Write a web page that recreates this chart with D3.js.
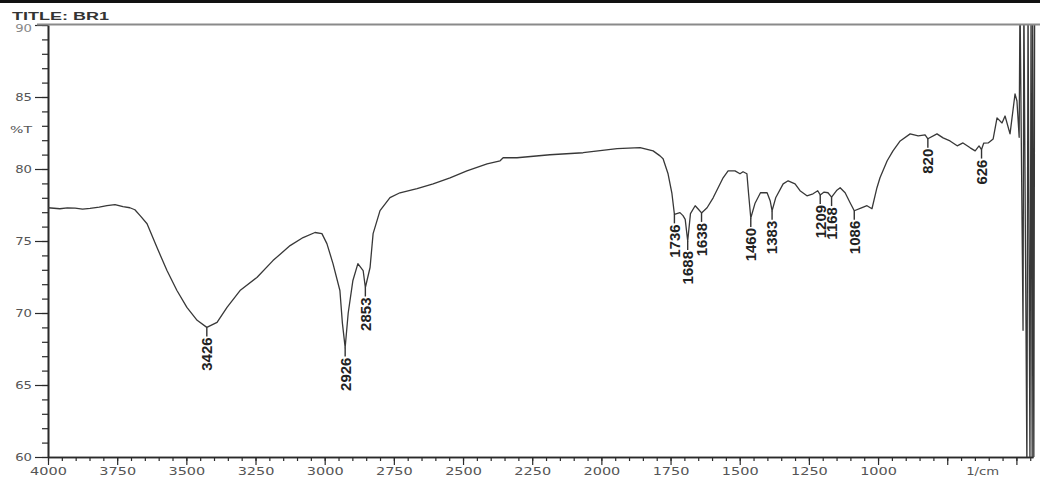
<!DOCTYPE html>
<html>
<head>
<meta charset="utf-8">
<script src="https://cdn.jsdelivr.net/npm/d3@7"></script>
<style>
  html, body { margin: 0; padding: 0; background: #fff; }
  svg { display: block; }
</style>
</head>
<body>
<svg id="chart" width="1040" height="481"></svg>
<script>
// IR spectrum of sample BR1: wavenumber (1/cm) against transmittance (%T)
const wavenumbers = [
  4000, 3957, 3930, 3902, 3875, 3848, 3815, 3787, 3758, 3729, 3704, 3686, 3667, 3642,
  3606, 3570, 3534, 3498, 3461, 3426, 3389, 3353, 3306, 3245, 3187, 3125, 3078, 3035,
  3010, 2992, 2970, 2945, 2936, 2926, 2915, 2898, 2880, 2861, 2853, 2836, 2825, 2800,
  2764, 2728, 2666, 2608, 2547, 2486, 2413, 2366, 2355, 2305, 2186, 2066, 1943, 1860,
  1813, 1788, 1777, 1759, 1745, 1736, 1716, 1705, 1697, 1688, 1678, 1661, 1651, 1638,
  1618, 1596, 1560, 1542, 1517, 1499, 1488, 1474, 1468, 1460, 1445, 1425, 1401, 1390,
  1383, 1370, 1343, 1325, 1300, 1282, 1257, 1235, 1218, 1209, 1195, 1181, 1168, 1150,
  1137, 1119, 1101, 1086, 1060, 1040, 1022, 1004, 993, 967, 946, 920, 884, 855, 830,
  820, 787, 765, 740, 714, 693, 667, 649, 635, 626, 618, 602, 584, 570, 552, 541, 523,
  505, 498, 490, 487, 476, 473, 462, 458, 451, 447, 443, 441, 437, 434
];
const transmittance = [
  77.31, 77.24, 77.30, 77.28, 77.22, 77.26, 77.35, 77.45, 77.52, 77.38, 77.31, 77.17, 76.76, 76.20,
  74.54, 72.95, 71.56, 70.39, 69.49, 69.00, 69.35, 70.39, 71.56, 72.47, 73.64, 74.68, 75.24, 75.59,
  75.51, 74.82, 73.43, 71.56, 69.30, 67.60, 70.00, 72.26, 73.43, 72.95, 71.77, 73.16, 75.51, 77.11,
  78.01, 78.35, 78.63, 78.97, 79.39, 79.87, 80.36, 80.57, 80.78, 80.78, 80.99, 81.13, 81.41, 81.48,
  81.26, 80.91, 80.71, 79.67, 78.30, 76.85, 76.97, 76.76, 76.50, 75.00, 76.90, 77.45, 77.24, 76.95,
  77.31, 78.00, 79.39, 79.87, 79.87, 79.67, 79.81, 79.67, 78.30, 76.60, 77.60, 78.35, 78.35, 77.80,
  77.10, 78.00, 78.97, 79.18, 78.97, 78.49, 78.14, 78.28, 78.49, 78.20, 78.40, 78.35, 78.05, 78.50,
  78.70, 78.35, 77.66, 77.10, 77.30, 77.45, 77.24, 78.70, 79.39, 80.57, 81.26, 81.95, 82.44, 82.30, 82.37,
  82.10, 82.44, 82.16, 81.95, 81.61, 81.81, 81.47, 81.26, 81.60, 81.35, 81.80, 81.81, 82.09, 83.55, 83.20, 83.68, 82.44,
  85.21, 84.72, 82.20, 92.00, 68.80, 92.00, 59.00, 92.00, 59.00, 92.00, 59.00, 92.00, 59.00, 92.00
];

// Annotated band positions
const peakLabels = [3426, 2926, 2853, 1736, 1688, 1638, 1460, 1383, 1209, 1168, 1086, 820, 626];

// Axis ticks
const yMajorTicks = [60, 65, 70, 75, 80, 85];
const yTopTick = 90;
const yMinorTicks = d3.range(60, 91, 1);
const xMajorTicks = d3.range(4000, 499, -250);
const xMinorTicks = d3.range(4000, 449, -50);
const xTickLabels = ["4000", "3750", "3500", "3250", "3000", "2750", "2500", "2250", "2000", "1750", "1500", "1250", "1000"];
const xUnitLabel = "1/cm";
const yUnitLabel = "%T";
const title = "TITLE: BR1";

const svg = d3.select("#chart");
const W = 1040, H = 481;

const x = d3.scaleLinear().domain([4000, 440]).range([48, 1033]);
const y = d3.scaleLinear().domain([60, 90]).range([457, 25]);

const labelColor = "#555";
const axisColor = "#2a2a2a";
const wideFont = "'DejaVu Sans', sans-serif";

svg.append("rect").attr("width", W).attr("height", H).attr("fill", "#fff");

// clip for the trace: plot area (trace runs off the top at the far right)
svg.append("defs").append("clipPath").attr("id", "plotClip")
  .append("rect").attr("x", 48).attr("y", 25).attr("width", W - 48).attr("height", 457 - 25);

// ----- Y axis -----
const yMinor = svg.append("g").attr("transform", "translate(48,0)")
  .call(d3.axisLeft(y).tickValues(yMinorTicks).tickSize(6).tickSizeOuter(0).tickFormat(""));
const yMajor = svg.append("g").attr("transform", "translate(48,0)")
  .call(d3.axisLeft(y).tickValues(yMajorTicks.concat([yTopTick])).tickSize(13).tickSizeOuter(0).tickPadding(3)
    .tickFormat(d3.format("d")));
[yMinor, yMajor].forEach(g => {
  g.selectAll("line").attr("stroke", axisColor).attr("stroke-width", 1.2);
  g.select(".domain").attr("stroke", axisColor).attr("stroke-width", 1.6);
});
yMajor.selectAll("text")
  .attr("fill", labelColor).attr("font-family", wideFont).attr("font-size", 10)
  .attr("textLength", d => String(d).length * 8.4).attr("lengthAdjust", "spacingAndGlyphs");
// the top label sits tucked under the header rule
yMajor.selectAll(".tick").filter(d => d === yTopTick).select("text")
  .attr("dy", null).attr("y", 6.5).attr("fill", "#888");

svg.append("text").attr("x", 32).attr("y", y(82.7)).attr("dy", "0.35em")
  .attr("text-anchor", "end").attr("fill", labelColor)
  .attr("font-family", wideFont).attr("font-size", 9.5)
  .attr("textLength", 22).attr("lengthAdjust", "spacingAndGlyphs")
  .text(yUnitLabel);

// ----- X axis -----
const xMinor = svg.append("g").attr("transform", "translate(0,457)")
  .call(d3.axisBottom(x).tickValues(xMinorTicks).tickSize(4).tickSizeOuter(0).tickFormat(""));
const xMajor = svg.append("g").attr("transform", "translate(0,457)")
  .call(d3.axisBottom(x).tickValues(xMajorTicks).tickSize(8).tickSizeOuter(0).tickPadding(3)
    .tickFormat((d, i) => xTickLabels[i] || ""));
[xMinor, xMajor].forEach(g => {
  g.selectAll("line").attr("stroke", axisColor).attr("stroke-width", 1.2);
  g.select(".domain").attr("stroke", axisColor).attr("stroke-width", 1.6);
});
xMajor.selectAll("text")
  .attr("fill", labelColor).attr("font-family", wideFont).attr("font-size", 10)
  .attr("textLength", function () { return this.textContent.length * 9.2; })
  .attr("lengthAdjust", "spacingAndGlyphs");

svg.append("text").attr("x", x(622)).attr("y", 475)
  .attr("text-anchor", "middle").attr("fill", labelColor)
  .attr("font-family", wideFont).attr("font-size", 10)
  .attr("textLength", 33).attr("lengthAdjust", "spacingAndGlyphs")
  .text(xUnitLabel);

// ----- spectrum trace -----
const points = wavenumbers.map((w, i) => [w, transmittance[i]]);
svg.append("path")
  .datum(points)
  .attr("clip-path", "url(#plotClip)")
  .attr("fill", "none")
  .attr("stroke", "#383838")
  .attr("stroke-width", 1.3)
  .attr("stroke-linejoin", "round")
  .attr("d", d3.line().x(d => x(d[0])).y(d => y(d[1])));

// ----- band annotations -----
const peakLayer = svg.append("g");
peakLabels.forEach(p => {
  const i = wavenumbers.indexOf(p);
  const px = x(p), py = y(transmittance[i]);
  peakLayer.append("line")
    .attr("x1", px).attr("x2", px).attr("y1", py).attr("y2", py + 9)
    .attr("stroke", "#333").attr("stroke-width", 1.4);
  peakLayer.append("text")
    .attr("transform", `translate(${px},${py + 10}) rotate(-90)`)
    .attr("text-anchor", "end").attr("dy", "0.36em")
    .attr("font-family", "'Liberation Sans Narrow', 'Arial Narrow', sans-serif")
    .attr("font-weight", "bold").attr("font-size", 15).attr("fill", "#222")
    .text(p);
});

// ----- header -----
svg.append("rect").attr("x", 0).attr("y", 0).attr("width", W).attr("height", 23.5).attr("fill", "#fff");
svg.append("rect").attr("x", 0).attr("y", 0).attr("width", W).attr("height", 3).attr("fill", "#111");
svg.append("line").attr("x1", 37).attr("x2", W).attr("y1", 24.5).attr("y2", 24.5)
  .attr("stroke", "#8a8a8a").attr("stroke-width", 2);
svg.append("text").attr("x", 12).attr("y", 19.5)
  .attr("font-family", "'Liberation Sans', Arial, sans-serif").attr("font-weight", "bold")
  .attr("font-size", 11).attr("fill", "#333")
  .attr("textLength", 97).attr("lengthAdjust", "spacingAndGlyphs")
  .text(title);
</script>
</body>
</html>
